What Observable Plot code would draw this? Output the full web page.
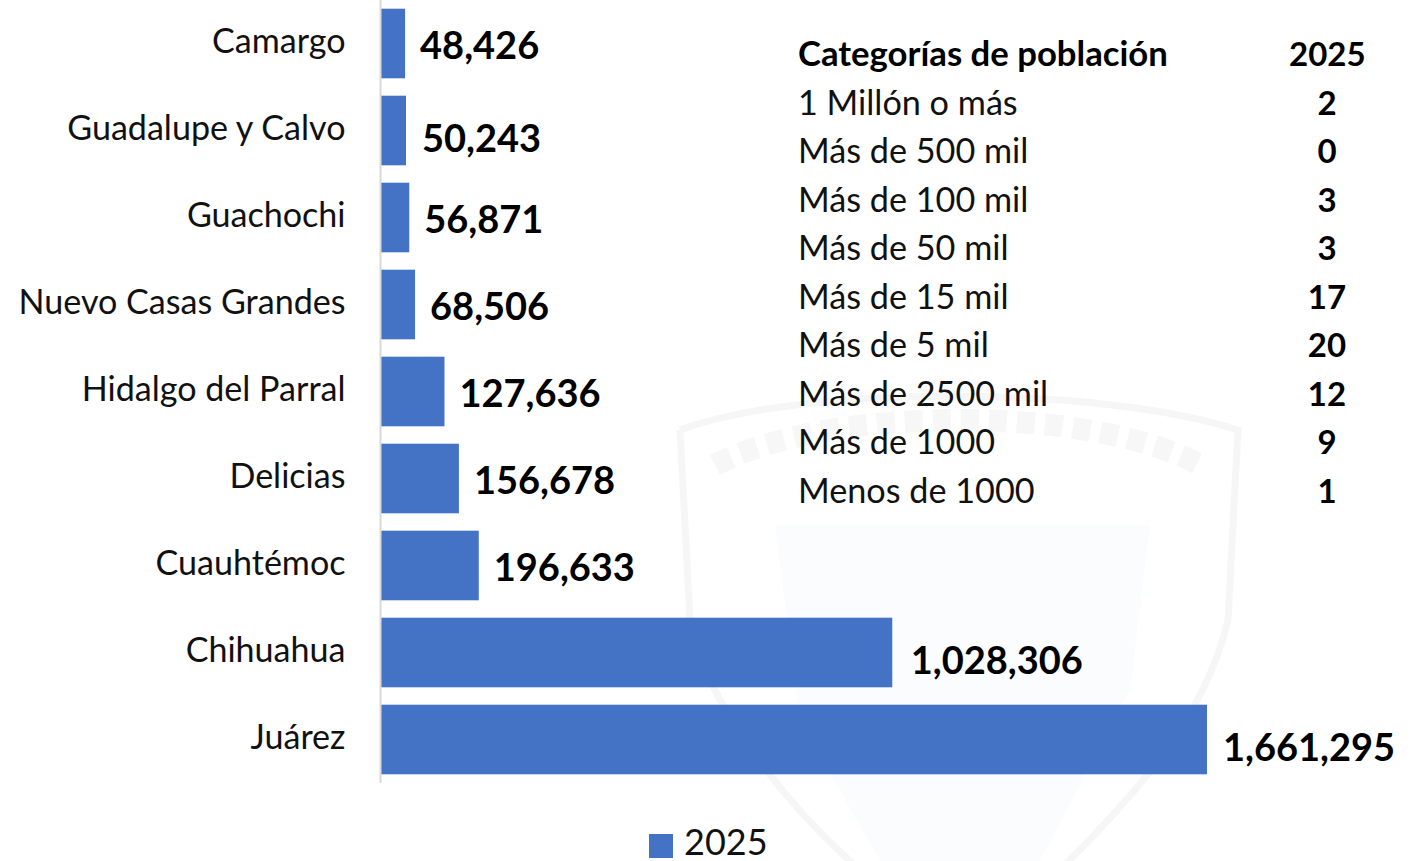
<!DOCTYPE html>
<html lang="es">
<head>
<meta charset="utf-8">
<script src="https://cdn.jsdelivr.net/npm/d3@7"></script>
<script src="https://cdn.jsdelivr.net/npm/@observablehq/plot@0.6"></script>
<style>
  html, body { margin: 0; padding: 0; background: #fff; }
  body { width: 1421px; height: 861px; position: relative; overflow: hidden; font-family: Lato, sans-serif; color: #000; }
  #wm { position: absolute; left: 0; top: 0; }
  #chart { position: absolute; left: 0; top: 0; }
  #chart svg { background: transparent; display: block; }
  #legend { position: absolute; left: 649px; top: 822px; height: 38px; display: flex; align-items: center; font-size: 36px; line-height: 38px; color: #111; }
  #legend i { display: block; width: 24px; height: 24px; background: #4472c4; margin-right: 11px; margin-top: 10px; }
  #table { position: absolute; left: 798px; top: 29px; display: grid; grid-template-columns: 491px 76px; grid-auto-rows: 48.5px; font-size: 34.2px; line-height: 48.5px; color: #111; }
  #table .n { text-align: center; font-weight: 700; color: #000; font-size: 33px; }
  #table .h { font-weight: 700; color: #000; font-size: 34.7px; }
</style>
</head>
<body>
<svg id="wm" width="1421" height="861" fill="none">
  <path d="M680 430 C800 385 1100 385 1238 430 L1228 620 C1205 720 1130 800 1060 870 M680 430 L690 620 C705 700 780 800 860 870" stroke="#f6f6f6" stroke-width="7"/>
  <path d="M775 525 H1150 L1130 690 L1040 861 H880 L800 720 Z" fill="#fbfcfe"/>
  <path d="M715 465 C830 405 1090 405 1200 465" stroke="#f7f7f7" stroke-width="22" stroke-dasharray="18 10"/>
</svg>
<div id="chart"></div>
<div id="table"></div>
<div id="legend"><i></i><span>2025</span></div>
<script>
const municipios = ["Camargo", "Guadalupe y Calvo", "Guachochi", "Nuevo Casas Grandes", "Hidalgo del Parral", "Delicias", "Cuauhtémoc", "Chihuahua", "Juárez"];
const poblacion2025 = [48426, 50243, 56871, 68506, 127636, 156678, 196633, 1028306, 1661295];
const categorias = ["1 Millón o más", "Más de 500 mil", "Más de 100 mil", "Más de 50 mil", "Más de 15 mil", "Más de 5 mil", "Más de 2500 mil", "Más de 1000", "Menos de 1000"];
const conteos2025 = [2, 0, 3, 3, 17, 20, 12, 9, 1];

const rows = municipios.map((m, i) => ({municipio: m, valor: poblacion2025[i]}));
const lowered = new Set(["Guadalupe y Calvo", "Chihuahua", "Juárez"]);
const fmt = d3.format(",");

const valueText = (data, dx, dy) => Plot.text(data, {
  x: "valor", y: "municipio", text: d => fmt(d.valor),
  textAnchor: "start", dx, dy, fontSize: 38, fontWeight: 700, fill: "#000"
});

const plot = Plot.plot({
  width: 1421, height: 783,
  marginLeft: 381, marginRight: 214, marginTop: 0, marginBottom: 0,
  style: {fontFamily: "Lato, sans-serif", background: "transparent", overflow: "visible"},
  x: {domain: [0, 1661295], axis: null},
  y: {domain: municipios, paddingInner: 0.2, paddingOuter: 0.1, label: null, round: false},
  marks: [
    Plot.barX(rows, {x: "valor", y: "municipio", fill: "#4472c4"}),
    Plot.ruleX([0], {stroke: "#d9d9d9", strokeWidth: 2, dx: -1}),
    Plot.axisY({tickSize: 0, tickPadding: 36, fontSize: 34.1, label: null, fill: "#111", dy: -1.5}),
    valueText(rows.filter(d => !lowered.has(d.municipio)), 14.5, 3),
    valueText(rows.filter(d => d.municipio === "Guadalupe y Calvo"), 15.5, 8.5),
    valueText(rows.filter(d => d.municipio === "Chihuahua"), 18, 9),
    valueText(rows.filter(d => d.municipio === "Juárez"), 15.5, 9)
  ]
});
document.getElementById("chart").append(plot);

const table = document.getElementById("table");
const cell = (t, c) => { const d = document.createElement("div"); d.textContent = t; if (c) d.className = c; table.append(d); };
cell("Categorías de población", "h"); cell("2025", "n");
categorias.forEach((c, i) => { cell(c); cell(conteos2025[i], "n"); });
</script>
</body>
</html>
